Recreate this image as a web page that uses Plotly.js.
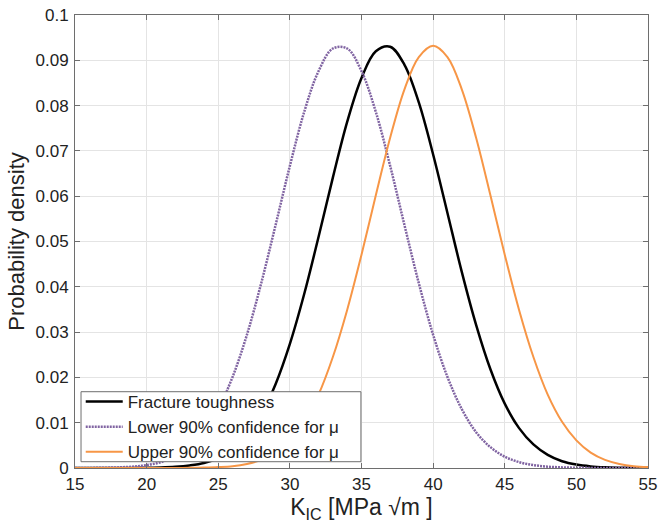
<!DOCTYPE html>
<html>
<head>
<meta charset="utf-8">
<script src="https://cdn.plot.ly/plotly-3.0.1.min.js"></script>
<style>html,body{margin:0;padding:0;background:#fff;}#chart{width:659px;height:526px;}</style>
</head>
<body>
<div id="chart"></div>
<script>
// K_IC values (x axis)
const kic = [15,16,17,18,19,20,21,22,23,24,25,26,27,28,29,30,31,32,33,34,35,36,37,38,39,40,41,42,43,44,45,46,47,48,49,50,51,52,53,54,55];

// Fracture toughness density (black)
const fracture = [0,0,0,0.00001,0.00002,0.00005,0.00011,0.00026,0.00056,0.0011,0.0022,0.0041,0.0071,0.0118,0.0185,0.0274,0.0384,0.0510,0.0641,0.0764,0.0861,0.0920,0.0930,0.0890,0.0807,0.0692,0.0563,0.0433,0.0316,0.0218,0.0142,0.0088,0.0052,0.0029,0.0015,0.00075,0.00035,0.00016,0.00007,0.00003,0.00001];

// Lower 90% confidence for mu (purple)
const lower = [0.00001,0.00002,0.00006,0.00013,0.0003,0.00064,0.0013,0.0025,0.0046,0.0079,0.0130,0.0201,0.0294,0.0408,0.0536,0.0667,0.0786,0.0876,0.0926,0.0926,0.0876,0.0786,0.0667,0.0536,0.0408,0.0294,0.0201,0.0130,0.0079,0.0046,0.0025,0.0013,0.00064,0.0003,0.00013,0.00006,0.00002,0.00001,0,0,0];

// Upper 90% confidence for mu (orange)
const upper = [0,0,0,0,0,0,0,0,0.00003,0.00009,0.0002,0.0004,0.0009,0.0018,0.0034,0.0061,0.0102,0.0162,0.0245,0.0349,0.0471,0.0602,0.0729,0.0836,0.0907,0.0932,0.0907,0.0836,0.0729,0.0602,0.0471,0.0349,0.0245,0.0162,0.0102,0.0061,0.0034,0.0018,0.0009,0.0004,0.0002];

const seriesNames = ['Fracture toughness','Lower 90% confidence for \u03BC','Upper 90% confidence for \u03BC'];

const xTickVals = [15,20,25,30,35,40,45,50,55];
const xTickText = ['15','20','25','30','35','40','45','50','55'];
const yTickVals = [0,0.01,0.02,0.03,0.04,0.05,0.06,0.07,0.08,0.09,0.1];
const yTickText = ['0','0.01','0.02','0.03','0.04','0.05','0.06','0.07','0.08','0.09','0.1'];

const FONT = 'Liberation Sans, Arial, sans-serif';

const traces = [
  {x: kic, y: fracture, name: seriesNames[0], type: 'scatter', mode: 'lines',
   line: {color: '#000000', width: 2.5, shape: 'spline'}},
  {x: kic, y: lower, name: seriesNames[1], type: 'scatter', mode: 'lines',
   line: {color: '#8064A2', width: 2.5, dash: '2px,1px', shape: 'spline'}},
  {x: kic, y: upper, name: seriesNames[2], type: 'scatter', mode: 'lines',
   line: {color: '#F79646', width: 2, shape: 'spline'}}
];

const axisCommon = {
  showline: true, linecolor: '#6e6e6e', linewidth: 1, mirror: 'ticks',
  ticks: 'inside', ticklen: 5, tickcolor: '#6e6e6e', tickwidth: 1,
  showgrid: true, gridcolor: '#e4e4e4', gridwidth: 1, zeroline: false,
  tickfont: {family: FONT, size: 17, color: '#222'}
};

const layout = {
  width: 659, height: 526,
  margin: {l: 75, r: 11, t: 15, b: 58},
  paper_bgcolor: '#ffffff', plot_bgcolor: '#ffffff',
  font: {family: FONT, color: '#222'},
  showlegend: true,
  xaxis: Object.assign({}, axisCommon, {
    range: [15, 55], tickmode: 'array', tickvals: xTickVals, ticktext: xTickText,
    ticklabelstandoff: 1,
    title: {text: 'K<sub>IC</sub> [MPa \u221Am ]', font: {family: FONT, size: 23, color: '#222'}, standoff: 1}
  }),
  yaxis: Object.assign({}, axisCommon, {
    range: [0, 0.1], tickmode: 'array', tickvals: yTickVals, ticktext: yTickText,
    ticklabelstandoff: 2,
    title: {text: 'Probability density', font: {family: FONT, size: 22, color: '#222'}, standoff: 4}
  }),
  shapes: [{
    type: 'rect', xref: 'paper', yref: 'paper',
    x0: 0.0105, x1: 0.499, y0: 0.0139, y1: 0.1684,
    fillcolor: '#ffffff', line: {color: '#6e6e6e', width: 1}, layer: 'above'
  }],
  legend: {
    x: 0.01, y: 0.1854, xanchor: 'left', yanchor: 'top',
    bgcolor: 'rgba(0,0,0,0)', borderwidth: 0, itemwidth: 37,
    font: {family: FONT, size: 17, color: '#222'}
  }
};

Plotly.newPlot('chart', traces, layout, {staticPlot: true, displayModeBar: false});
</script>
</body>
</html>
